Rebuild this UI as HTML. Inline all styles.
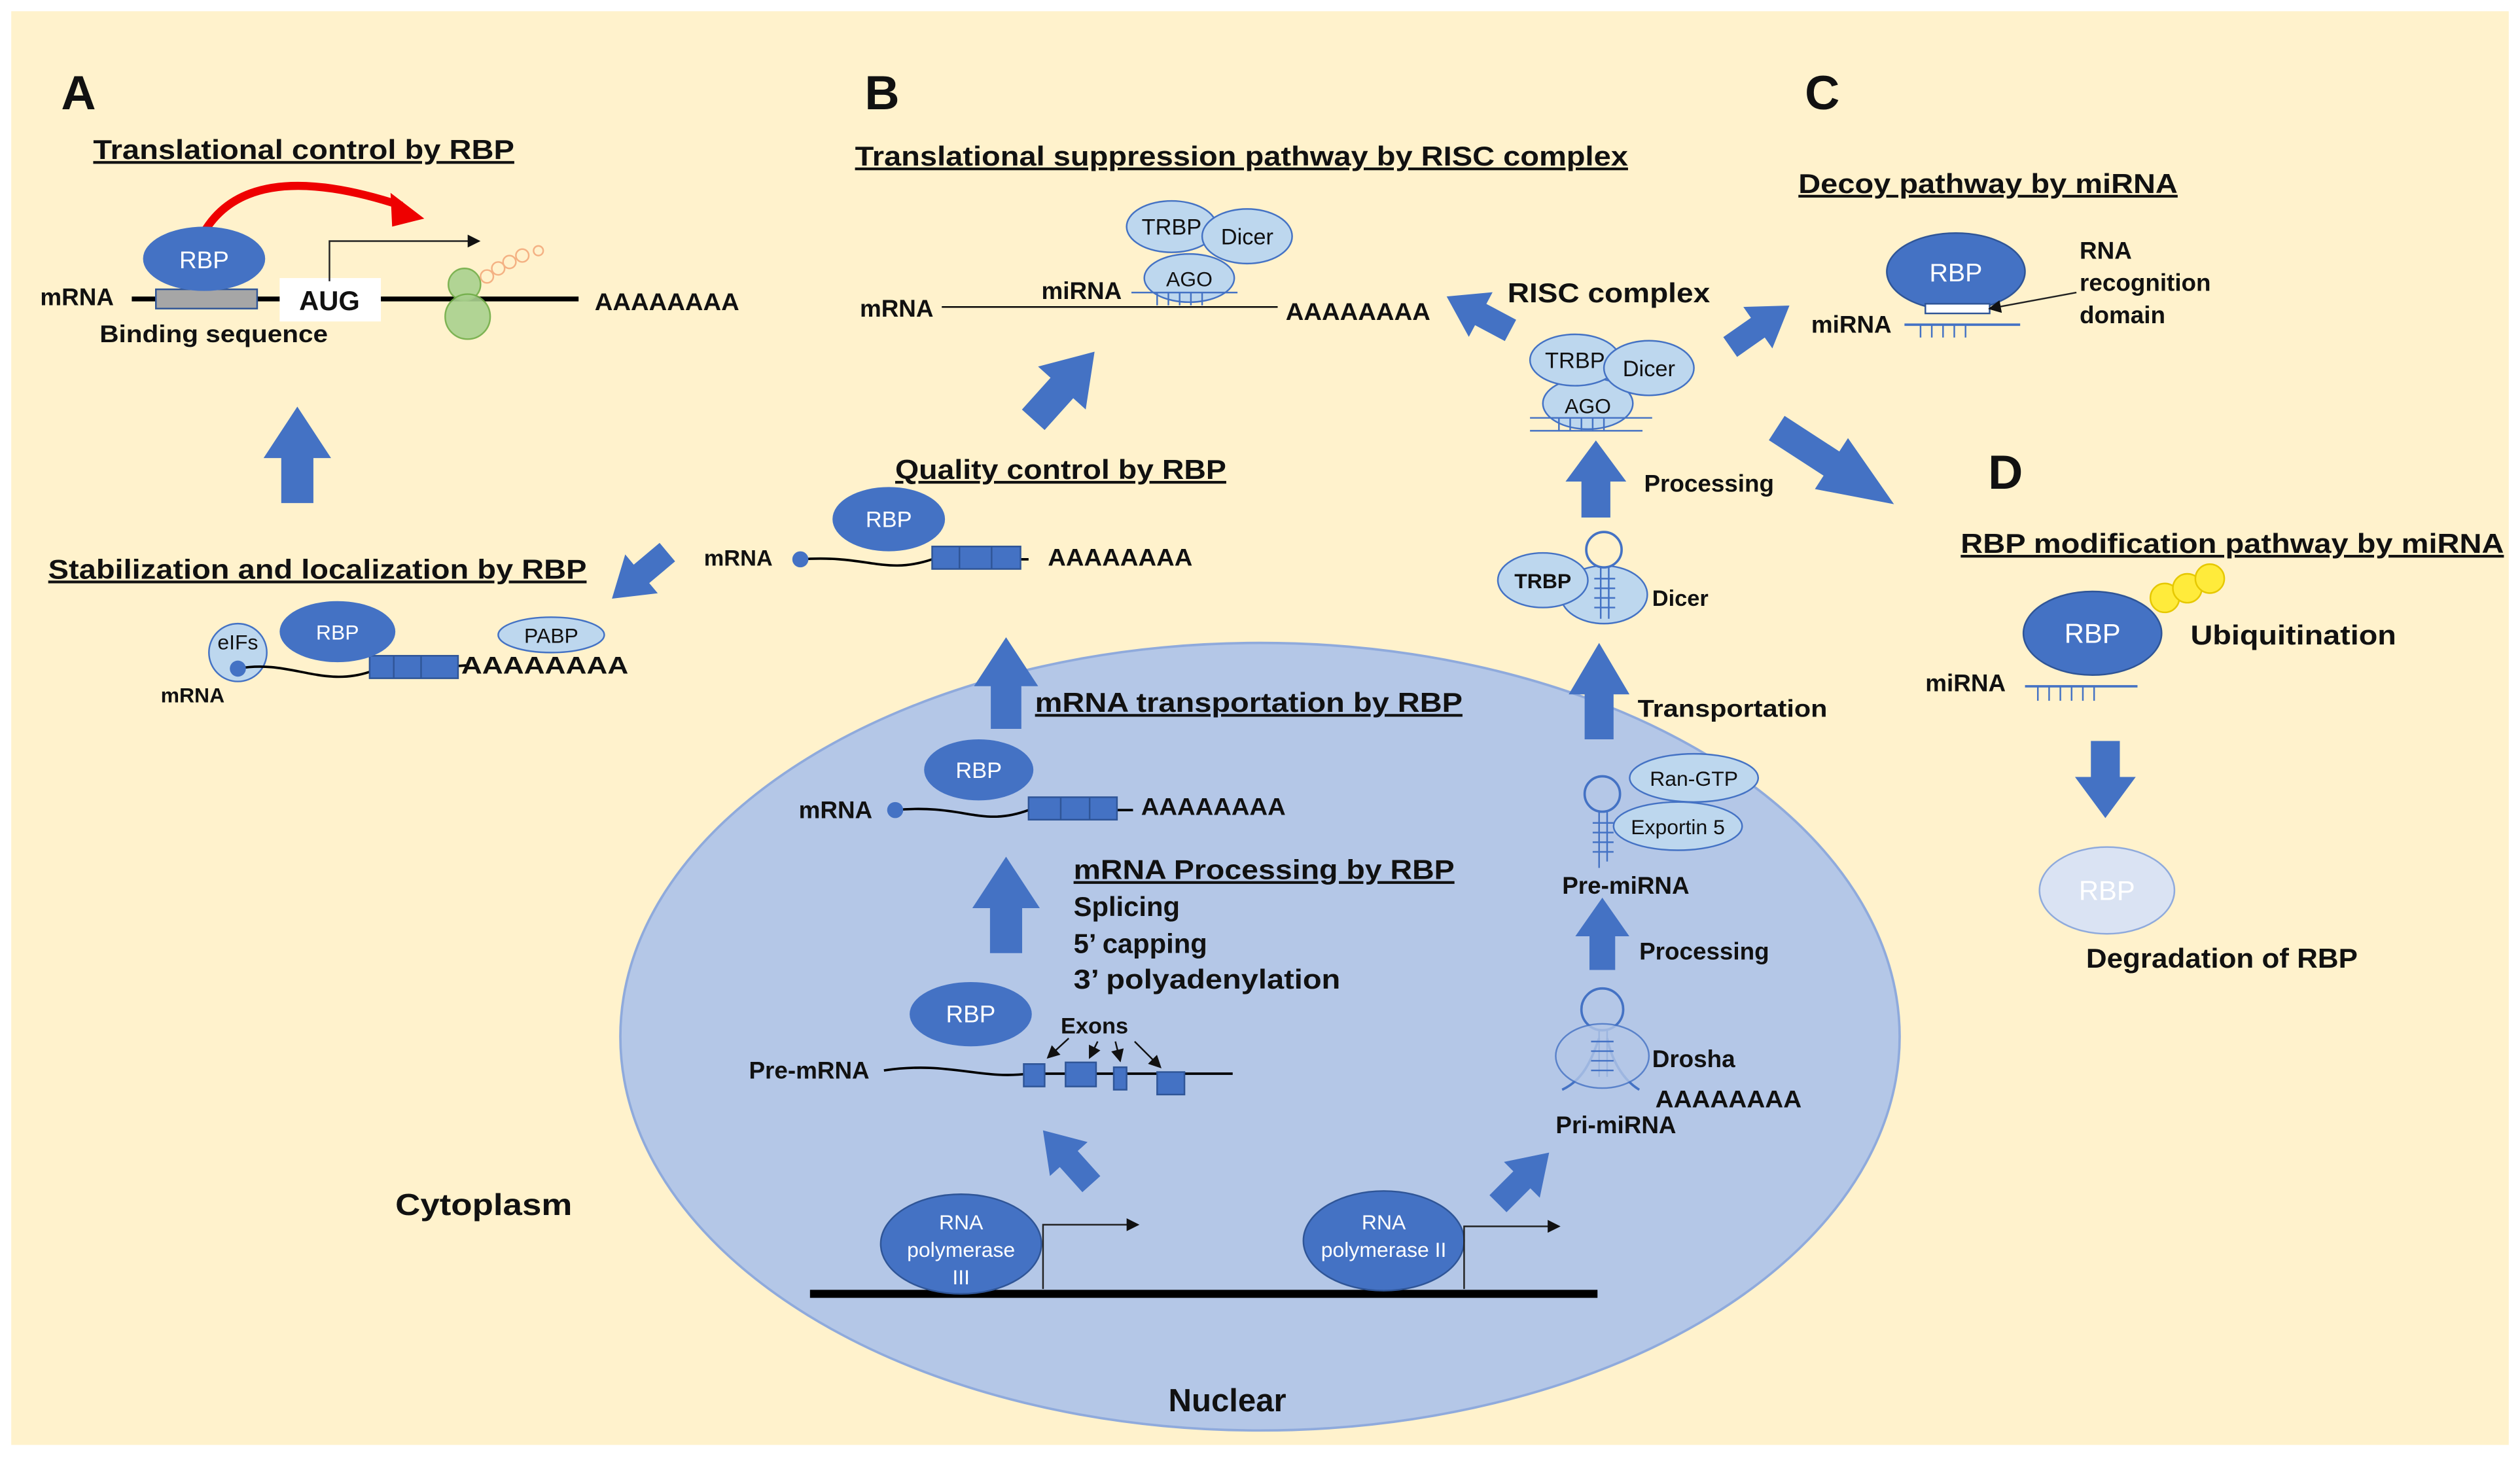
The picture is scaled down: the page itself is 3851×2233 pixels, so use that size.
<!DOCTYPE html>
<html><head><meta charset="utf-8"><style>
html,body{margin:0;padding:0;background:#fff;}
svg{display:block;}
text{font-family:"Liberation Sans",sans-serif;fill:#111;}
.b{font-weight:bold;}
.w{fill:#fff;}
</style></head><body>
<svg width="3851" height="2233" viewBox="0 0 1568 909" preserveAspectRatio="none" xmlns="http://www.w3.org/2000/svg">
<defs>
<path id="ar" d="M-10,30 L-10,2 L-21,2 L0,-30 L21,2 L10,2 L10,30 Z" fill="#4472c4"/>
<marker id="mk" markerWidth="8" markerHeight="8" refX="7" refY="4" orient="auto"><path d="M0,0 L8,4 L0,8 Z" fill="#111"/></marker>
</defs>
<rect x="0" y="0" width="1568" height="909" fill="#fff"/>
<rect x="7" y="7" width="1554" height="892" fill="#fff2cc"/>

<ellipse cx="784" cy="645" rx="398" ry="245" fill="#b4c7e7" stroke="#8faadc" stroke-width="1.5"/>

<text x="38" y="68" font-size="30" class="b">A</text>
<text x="538" y="68" font-size="30" class="b">B</text>
<text x="1123" y="68" font-size="30" class="b">C</text>
<text x="1237" y="304" font-size="30" class="b">D</text>

<g font-size="17" class="b" lengthAdjust="spacingAndGlyphs">
<text x="58" y="99" text-decoration="underline" textLength="262" lengthAdjust="spacingAndGlyphs">Translational control by RBP</text>
<text x="532" y="103" text-decoration="underline" textLength="481" lengthAdjust="spacingAndGlyphs">Translational suppression pathway by RISC complex</text>
<text x="1119" y="120" text-decoration="underline" textLength="236" lengthAdjust="spacingAndGlyphs">Decoy pathway by miRNA</text>
<text x="1220" y="344" text-decoration="underline" textLength="338" lengthAdjust="spacingAndGlyphs">RBP modification pathway by miRNA</text>
<text x="557" y="298" text-decoration="underline" textLength="206" lengthAdjust="spacingAndGlyphs">Quality control by RBP</text>
<text x="30" y="360" text-decoration="underline" textLength="335" lengthAdjust="spacingAndGlyphs">Stabilization and localization by RBP</text>
<text x="644" y="443" text-decoration="underline" textLength="266" lengthAdjust="spacingAndGlyphs">mRNA transportation by RBP</text>
<text x="668" y="547" text-decoration="underline" textLength="237" lengthAdjust="spacingAndGlyphs">mRNA Processing by RBP</text>
<text x="668" y="570">Splicing</text>
<text x="668" y="593">5’ capping</text>
<text x="668" y="615" textLength="166" lengthAdjust="spacingAndGlyphs">3’ polyadenylation</text>
</g>

<!-- Section A -->
<line x1="82" y1="186" x2="360" y2="186" stroke="#000" stroke-width="3"/>
<rect x="97" y="180" width="63" height="12" fill="#a6a6a6" stroke="#2f5597"/>
<path d="M124,150 Q150,95 250,128" fill="none" stroke="#e00" stroke-width="5"/>
<path d="M243,120 L264,136 L244,141 Z" fill="#e00"/>
<ellipse cx="127" cy="161" rx="38" ry="20" fill="#4472c4"/>
<text x="127" y="167" font-size="15" class="w" text-anchor="middle">RBP</text>
<rect x="174" y="173" width="63" height="27" fill="#fff"/>
<text x="205" y="193" font-size="17" text-anchor="middle" class="b">AUG</text>
<polyline points="205,175 205,150 298,150" fill="none" stroke="#222" stroke-width="1" marker-end="url(#mk)"/>
<circle cx="289" cy="177" r="10" fill="#a9d18e" stroke="#70ad47" opacity="0.9"/>
<circle cx="291" cy="197" r="14" fill="#a9d18e" stroke="#70ad47" opacity="0.9"/>
<g fill="none" stroke="#f4b183"><circle cx="303" cy="172" r="4"/><circle cx="310" cy="167" r="4"/><circle cx="317" cy="163" r="4"/><circle cx="325" cy="159" r="4"/><circle cx="335" cy="156" r="3"/></g>
<text x="25" y="190" font-size="15" class="b">mRNA</text>
<text x="370" y="193" font-size="15" class="b" textLength="90" lengthAdjust="spacingAndGlyphs">AAAAAAAA</text>
<text x="62" y="213" font-size="15" class="b" textLength="142" lengthAdjust="spacingAndGlyphs">Binding sequence</text>

<!-- Stabilization -->
<circle cx="148" cy="406" r="18" fill="#bdd7ee" stroke="#4472c4"/>
<text x="148" y="404" font-size="13" text-anchor="middle">eIFs</text>
<path d="M148,416 C180,410 200,428 230,418 L290,414" fill="none" stroke="#000" stroke-width="1.5"/>
<circle cx="148" cy="416" r="5" fill="#4472c4"/>
<rect x="230" y="408" width="55" height="14" fill="#4472c4" stroke="#2f5597"/>
<line x1="245" y1="408" x2="245" y2="422" stroke="#2f5597"/><line x1="262" y1="408" x2="262" y2="422" stroke="#2f5597"/>
<ellipse cx="210" cy="393" rx="36" ry="19" fill="#4472c4"/>
<text x="210" y="398" font-size="13" class="w" text-anchor="middle">RBP</text>
<ellipse cx="343" cy="395" rx="33" ry="11" fill="#bdd7ee" stroke="#4472c4"/>
<text x="343" y="400" font-size="13" text-anchor="middle">PABP</text>
<text x="287" y="419" font-size="15" class="b" textLength="104" lengthAdjust="spacingAndGlyphs">AAAAAAAA</text>
<text x="100" y="437" font-size="13" class="b">mRNA</text>

<!-- Quality control -->
<path d="M498,348 C540,345 550,358 580,348 L640,348" fill="none" stroke="#000" stroke-width="1.5"/>
<circle cx="498" cy="348" r="5" fill="#4472c4"/>
<rect x="580" y="340" width="55" height="14" fill="#4472c4" stroke="#2f5597"/>
<line x1="597" y1="340" x2="597" y2="354" stroke="#2f5597"/><line x1="617" y1="340" x2="617" y2="354" stroke="#2f5597"/>
<ellipse cx="553" cy="323" rx="35" ry="20" fill="#4472c4"/>
<text x="553" y="328" font-size="14" class="w" text-anchor="middle">RBP</text>
<text x="438" y="352" font-size="14" class="b">mRNA</text>
<text x="652" y="352" font-size="15" class="b" textLength="90" lengthAdjust="spacingAndGlyphs">AAAAAAAA</text>

<!-- mRNA transport -->
<path d="M557,504 C600,500 610,515 640,504 L705,504" fill="none" stroke="#000" stroke-width="1.5"/>
<circle cx="557" cy="504" r="5" fill="#4472c4"/>
<rect x="640" y="496" width="55" height="14" fill="#4472c4" stroke="#2f5597"/>
<line x1="660" y1="496" x2="660" y2="510" stroke="#2f5597"/><line x1="678" y1="496" x2="678" y2="510" stroke="#2f5597"/>
<ellipse cx="609" cy="479" rx="34" ry="19" fill="#4472c4"/>
<text x="609" y="484" font-size="14" class="w" text-anchor="middle">RBP</text>
<text x="497" y="509" font-size="15" class="b">mRNA</text>
<text x="710" y="507" font-size="15" class="b" textLength="90" lengthAdjust="spacingAndGlyphs">AAAAAAAA</text>

<!-- Pre-mRNA -->
<path d="M550,666 C590,660 610,672 640,668 L767,668" fill="none" stroke="#000" stroke-width="1.5"/>
<g fill="#4472c4" stroke="#2f5597"><rect x="637" y="662" width="13" height="14"/><rect x="663" y="661" width="19" height="15"/><rect x="693" y="664" width="8" height="14"/><rect x="720" y="667" width="17" height="14"/></g>
<ellipse cx="604" cy="631" rx="38" ry="20" fill="#4472c4"/>
<text x="604" y="636" font-size="15" class="w" text-anchor="middle">RBP</text>
<text x="466" y="671" font-size="15" class="b">Pre-mRNA</text>
<text x="660" y="643" font-size="14" class="b">Exons</text>
<g stroke="#111" stroke-width="1" marker-end="url(#mk)"><line x1="665" y1="646" x2="652" y2="658"/><line x1="683" y1="648" x2="678" y2="658"/><line x1="694" y1="648" x2="697" y2="660"/><line x1="706" y1="648" x2="722" y2="664"/></g>

<!-- DNA & polymerases -->
<line x1="504" y1="805" x2="994" y2="805" stroke="#000" stroke-width="5"/>
<ellipse cx="598" cy="774" rx="50" ry="31" fill="#4472c4" stroke="#2f5597"/>
<text x="598" y="765" font-size="13" class="w" text-anchor="middle">RNA</text>
<text x="598" y="782" font-size="13" class="w" text-anchor="middle">polymerase</text>
<text x="598" y="799" font-size="13" class="w" text-anchor="middle">III</text>
<polyline points="649,802 649,762 708,762" fill="none" stroke="#222" marker-end="url(#mk)"/>
<ellipse cx="861" cy="772" rx="50" ry="31" fill="#4472c4" stroke="#2f5597"/>
<text x="861" y="765" font-size="13" class="w" text-anchor="middle">RNA</text>
<text x="861" y="782" font-size="13" class="w" text-anchor="middle">polymerase II</text>
<polyline points="911,802 911,763 970,763" fill="none" stroke="#222" marker-end="url(#mk)"/>

<text x="246" y="756" font-size="19" class="b" textLength="110" lengthAdjust="spacingAndGlyphs">Cytoplasm</text>
<text x="727" y="878" font-size="20" class="b">Nuclear</text>

<!-- Pri-miRNA -->
<path d="M972,678 C985,672 990,660 995,646 M1020,678 C1010,672 1003,660 1000,646" fill="none" stroke="#4472c4" stroke-width="1.5"/>
<circle cx="997" cy="628" r="13" fill="none" stroke="#4472c4" stroke-width="1.5"/>
<line x1="995" y1="641" x2="995" y2="670" stroke="#4472c4"/><line x1="1000" y1="641" x2="1000" y2="670" stroke="#4472c4"/>
<ellipse cx="997" cy="657" rx="29" ry="20" fill="#b4c7e7" stroke="#4472c4" opacity="0.8"/>
<g stroke="#4472c4"><line x1="990" y1="648" x2="1004" y2="648"/><line x1="990" y1="654" x2="1004" y2="654"/><line x1="990" y1="660" x2="1004" y2="660"/><line x1="990" y1="666" x2="1004" y2="666"/></g>
<text x="1028" y="664" font-size="15" class="b">Drosha</text>
<text x="1030" y="689" font-size="15" class="b" textLength="91" lengthAdjust="spacingAndGlyphs">AAAAAAAA</text>
<text x="968" y="705" font-size="15" class="b">Pri-miRNA</text>

<!-- Pre-miRNA -->
<circle cx="997" cy="494" r="11" fill="none" stroke="#4472c4" stroke-width="1.5"/>
<line x1="995" y1="505" x2="995" y2="540" stroke="#4472c4"/><line x1="1000" y1="505" x2="1000" y2="536" stroke="#4472c4"/>
<g stroke="#4472c4"><line x1="991" y1="512" x2="1004" y2="512"/><line x1="991" y1="518" x2="1004" y2="518"/><line x1="991" y1="524" x2="1004" y2="524"/><line x1="991" y1="530" x2="1004" y2="530"/></g>
<ellipse cx="1054" cy="484" rx="40" ry="15" fill="#bdd7ee" stroke="#4472c4"/>
<text x="1054" y="489" font-size="13" text-anchor="middle">Ran-GTP</text>
<ellipse cx="1044" cy="514" rx="40" ry="15" fill="#bdd7ee" stroke="#4472c4"/>
<text x="1044" y="519" font-size="13" text-anchor="middle">Exportin 5</text>
<text x="972" y="556" font-size="15" class="b">Pre-miRNA</text>

<!-- Dicer step -->
<ellipse cx="998" cy="370" rx="27" ry="18" fill="#bdd7ee" stroke="#4472c4"/>
<ellipse cx="960" cy="361" rx="28" ry="17" fill="#bdd7ee" stroke="#4472c4"/>
<text x="960" y="366" font-size="13" text-anchor="middle" class="b">TRBP</text>
<circle cx="998" cy="342" r="11" fill="#fff2cc" stroke="#4472c4" stroke-width="1.5"/>
<line x1="996" y1="353" x2="996" y2="385" stroke="#4472c4"/><line x1="1001" y1="353" x2="1001" y2="385" stroke="#4472c4"/>
<g stroke="#4472c4"><line x1="992" y1="360" x2="1005" y2="360"/><line x1="992" y1="366" x2="1005" y2="366"/><line x1="992" y1="372" x2="1005" y2="372"/><line x1="992" y1="378" x2="1005" y2="378"/></g>
<text x="1028" y="377" font-size="14" class="b">Dicer</text>

<!-- RISC complex -->
<ellipse cx="988" cy="251" rx="28" ry="16" fill="#bdd7ee" stroke="#4472c4"/>
<ellipse cx="980" cy="224" rx="28" ry="16" fill="#bdd7ee" stroke="#4472c4"/>
<ellipse cx="1026" cy="229" rx="28" ry="17" fill="#bdd7ee" stroke="#4472c4"/>
<text x="980" y="229" font-size="14" text-anchor="middle">TRBP</text>
<text x="1026" y="234" font-size="14" text-anchor="middle">Dicer</text>
<text x="988" y="257" font-size="13" text-anchor="middle">AGO</text>
<line x1="952" y1="260" x2="1028" y2="260" stroke="#4472c4"/><line x1="952" y1="268" x2="1022" y2="268" stroke="#4472c4"/>
<g stroke="#4472c4"><line x1="970" y1="260" x2="970" y2="268"/><line x1="977" y1="260" x2="977" y2="268"/><line x1="984" y1="260" x2="984" y2="268"/><line x1="991" y1="260" x2="991" y2="268"/><line x1="998" y1="260" x2="998" y2="268"/></g>
<text x="938" y="188" font-size="17" class="b" textLength="126" lengthAdjust="spacingAndGlyphs">RISC complex</text>

<!-- B suppression -->
<line x1="586" y1="191" x2="795" y2="191" stroke="#000" stroke-width="1"/>
<ellipse cx="740" cy="173" rx="28" ry="15" fill="#bdd7ee" stroke="#4472c4"/>
<ellipse cx="729" cy="141" rx="28" ry="16" fill="#bdd7ee" stroke="#4472c4"/>
<ellipse cx="776" cy="147" rx="28" ry="17" fill="#bdd7ee" stroke="#4472c4"/>
<text x="729" y="146" font-size="14" text-anchor="middle">TRBP</text>
<text x="776" y="152" font-size="14" text-anchor="middle">Dicer</text>
<text x="740" y="178" font-size="13" text-anchor="middle">AGO</text>
<line x1="704" y1="182" x2="770" y2="182" stroke="#4472c4"/>
<g stroke="#4472c4"><line x1="720" y1="182" x2="720" y2="190"/><line x1="727" y1="182" x2="727" y2="190"/><line x1="734" y1="182" x2="734" y2="190"/><line x1="741" y1="182" x2="741" y2="190"/><line x1="748" y1="182" x2="748" y2="190"/></g>
<text x="535" y="197" font-size="15" class="b">mRNA</text>
<text x="648" y="186" font-size="15" class="b">miRNA</text>
<text x="800" y="199" font-size="15" class="b" textLength="90" lengthAdjust="spacingAndGlyphs">AAAAAAAA</text>

<!-- C decoy -->
<ellipse cx="1217" cy="169" rx="43" ry="24" fill="#4472c4" stroke="#2f5597"/>
<text x="1217" y="175" font-size="16" class="w" text-anchor="middle">RBP</text>
<rect x="1198" y="189" width="40" height="6" fill="#fff" stroke="#2f5597"/>
<line x1="1185" y1="202" x2="1257" y2="202" stroke="#4472c4" stroke-width="1.5"/>
<g stroke="#4472c4"><line x1="1195" y1="202" x2="1195" y2="210"/><line x1="1202" y1="202" x2="1202" y2="210"/><line x1="1209" y1="202" x2="1209" y2="210"/><line x1="1216" y1="202" x2="1216" y2="210"/><line x1="1223" y1="202" x2="1223" y2="210"/></g>
<line x1="1292" y1="182" x2="1238" y2="192" stroke="#222" marker-end="url(#mk)"/>
<text x="1127" y="207" font-size="15" class="b">miRNA</text>
<text x="1294" y="161" font-size="15" class="b">RNA</text>
<text x="1294" y="181" font-size="15" class="b">recognition</text>
<text x="1294" y="201" font-size="15" class="b">domain</text>

<!-- D -->
<ellipse cx="1302" cy="394" rx="43" ry="26" fill="#4472c4" stroke="#2f5597"/>
<text x="1302" y="400" font-size="17" class="w" text-anchor="middle">RBP</text>
<circle cx="1347" cy="372" r="9" fill="#ffeb3b" stroke="#e6c800"/>
<circle cx="1361" cy="366" r="9" fill="#ffeb3b" stroke="#e6c800"/>
<circle cx="1375" cy="360" r="9" fill="#ffeb3b" stroke="#e6c800"/>
<text x="1363" y="401" font-size="17" class="b" textLength="128" lengthAdjust="spacingAndGlyphs">Ubiquitination</text>
<line x1="1260" y1="427" x2="1330" y2="427" stroke="#4472c4" stroke-width="1.5"/>
<g stroke="#4472c4"><line x1="1268" y1="427" x2="1268" y2="436"/><line x1="1275" y1="427" x2="1275" y2="436"/><line x1="1282" y1="427" x2="1282" y2="436"/><line x1="1289" y1="427" x2="1289" y2="436"/><line x1="1296" y1="427" x2="1296" y2="436"/><line x1="1303" y1="427" x2="1303" y2="436"/></g>
<text x="1198" y="430" font-size="15" class="b">miRNA</text>
<ellipse cx="1311" cy="554" rx="42" ry="27" fill="#dae3f3" stroke="#8faadc"/>
<text x="1311" y="560" font-size="17" class="w" text-anchor="middle">RBP</text>
<text x="1298" y="602" font-size="17" class="b" textLength="169" lengthAdjust="spacingAndGlyphs">Degradation of RBP</text>

<g font-size="15" class="b">
<text x="1023" y="306">Processing</text>
<text x="1019" y="446" textLength="118" lengthAdjust="spacingAndGlyphs">Transportation</text>
<text x="1020" y="597">Processing</text>
</g>

<!-- Block arrows -->
<use href="#ar" transform="translate(185,283)"/>
<use href="#ar" transform="translate(662,240) rotate(42) scale(0.95)"/>
<use href="#ar" transform="translate(398,358) rotate(-130) scale(0.75)"/>
<use href="#ar" transform="translate(626,425) scale(0.95)"/>
<use href="#ar" transform="translate(626,563)"/>
<use href="#ar" transform="translate(664,720) rotate(-42) scale(0.75)"/>
<use href="#ar" transform="translate(948,733) rotate(45) scale(0.75)"/>
<use href="#ar" transform="translate(997,581) scale(0.8,0.75)"/>
<use href="#ar" transform="translate(995,430) scale(0.9,1)"/>
<use href="#ar" transform="translate(993,298) scale(0.9,0.8)"/>
<use href="#ar" transform="translate(920,195) rotate(-62) scale(0.75)"/>
<use href="#ar" transform="translate(1095,203) rotate(55) scale(0.75)"/>
<use href="#ar" transform="translate(1142,290) rotate(123) scale(0.9,1.45)"/>
<use href="#ar" transform="translate(1310,485) rotate(180) scale(0.9,0.8)"/>
</svg>
</body></html>
